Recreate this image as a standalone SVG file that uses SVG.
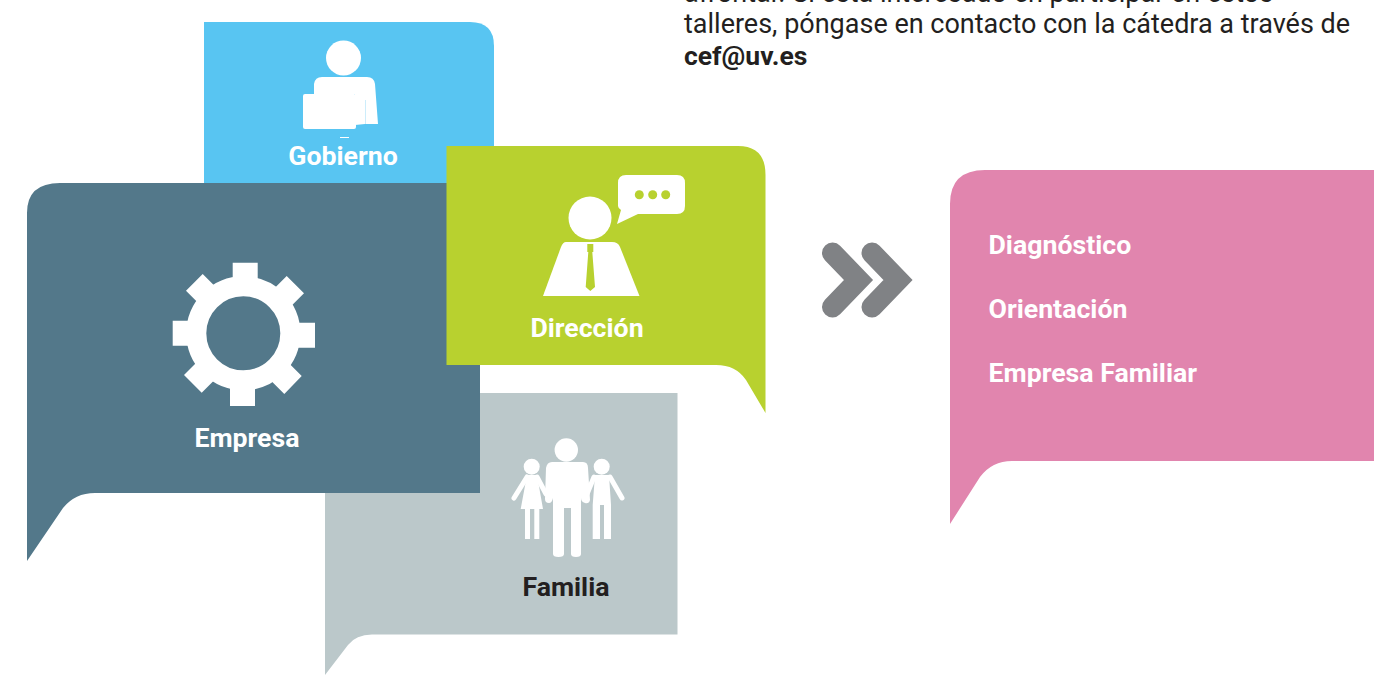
<svg xmlns="http://www.w3.org/2000/svg" width="1382" height="675" viewBox="0 0 1382 675">
<style>
.t{font-family:Roboto,"Liberation Sans",sans-serif;font-size:27px;font-weight:400;fill:#231f20}
.b{font-family:Roboto,"Liberation Sans",sans-serif;font-size:26.700px;font-weight:700;fill:#fff}
.i{fill:#fff}
.c{fill:none;stroke:#808285;stroke-width:21;stroke-linecap:round;stroke-miterlimit:4}
</style>
<rect width="1382" height="675" fill="#fff"/>
<g id="intro">
<text class="t" x="684" y="2">afrontar. Si está interesado en participar en estos</text>
<text class="t" x="684" y="33">talleres, póngase en contacto con la cátedra a través de</text>
<text class="t" x="684" y="65" style="font-weight:700;font-size:26.500px">cef@uv.es</text>
</g>
<g id="gobierno">
<path d="M204 22H470Q494 22 494 46V200H204Z" fill="#58c5f2"/>
<circle class="i" cx="343.500" cy="58" r="17.500"/>
<path class="i" d="M322 77H367Q374 77 375 84L378 124L365 124L355 125V94H314V84Q315 77 322 77Z"/>
<rect class="i" x="303" y="94" width="53" height="35" rx="2"/>
<rect x="365" y="100" width="1" height="24" fill="#58c5f2" opacity=".3"/>
<rect class="i" x="340" y="137" width="9" height="1"/>
<text class="b" x="343" y="165" text-anchor="middle">Gobierno</text>
</g>
<g id="familia">
<path d="M325 675V393H677.500V634.500H372Q356 634.500 348 645Z" fill="#bbc8ca"/>
<circle class="i" cx="566.300" cy="450" r="11.700"/>
<path class="i" d="M552 462H583Q588 462 588 468L590 500Q589 504 585 503Q581 502 581 498V508H581V554Q581 557 576 557Q571 557 571 554V508H564V554Q564 557 558.500 557Q553 557 553 554V498Q552 503 549 503Q545 503 545 499L546 468Q547 462 552 462Z"/>
<circle class="i" cx="531.700" cy="466.700" r="8"/>
<path class="i" d="M527 475H537L543 509H539.300V539H534.300V509H530V539H525V509H520.700Z"/>
<path d="M527 477L514 498M537 477L546 494" stroke="#fff" stroke-width="5" stroke-linecap="round" fill="none"/>
<circle class="i" cx="601.700" cy="466.700" r="8"/>
<path class="i" d="M595 475H609L611 505V539H604V505H600V539H592.700V505Z"/>
<path d="M610 477L622 498M594 477L587 494" stroke="#fff" stroke-width="5" stroke-linecap="round" fill="none"/>
<text x="566" y="596" text-anchor="middle" class="b" style="fill:#231f20">Familia</text>
</g>
<g id="empresa">
<path d="M27 561V213Q27 183 60 183H480V493H95Q75 493 63 508Z" fill="#53788a"/>
<circle cx="243.300" cy="333.300" r="47" fill="none" stroke="#fff" stroke-width="20"/>
<path class="i" d="M232.700 262.700H257.700V285H232.700ZM230 382H255V406H230ZM172.700 320.700H195V345.700H172.700ZM292 322.700H315V347.700H292Z"/>
<path class="i" d="M286.700 276L304 293.300L287 310.300L269.700 293ZM301.700 376L284.300 394L267.300 377L284.700 359ZM201.700 392.700L184 375L201 358L218.700 375.700ZM202.700 274L186 290.700L203 307.700L219.700 291Z"/>
<text class="b" x="247" y="447" text-anchor="middle">Empresa</text>
</g>
<g id="direccion">
<path d="M446.500 146H738Q765.500 146 765.500 175V413L746 380Q736 365 716 365H446.500Z" fill="#b8d12f"/>
<circle class="i" cx="590" cy="218" r="21.500"/>
<path class="i" d="M566 242H612Q618 242 620 247L639.500 296H543L561 247Q563 242 566 242Z"/>
<path d="M587.300 244H593.300V252H592.300L595 287L590.300 291L585.700 287L588.300 252H587.300Z" fill="#b8d12f"/>
<path class="i" d="M626 175H677Q685 175 685 183V206Q685 214 677 214H638L617 224L621 210Q618 208 618 206V183Q618 175 626 175Z"/>
<g fill="#b8d12f"><circle cx="639.300" cy="194.700" r="4.500"/><circle cx="652.700" cy="194.700" r="4.500"/><circle cx="665.700" cy="194.700" r="4.500"/></g>
<text class="b" x="587" y="337" text-anchor="middle">Dirección</text>
</g>
<g id="connectors">
<polyline class="c" points="832.500,253 858.500,280 832.500,307"/>
<polyline class="c" points="872,253 898,280 872,307"/>
</g>
<g id="resultado">
<path d="M950 524V204Q950 170 985 170H1374V461H1012Q992 461 980 477Z" fill="#e185ae"/>
<text class="b" x="988.500" y="254">Diagnóstico</text>
<text class="b" x="988.500" y="318">Orientación</text>
<text class="b" x="988.500" y="382">Empresa Familiar</text>
</g>
</svg>
